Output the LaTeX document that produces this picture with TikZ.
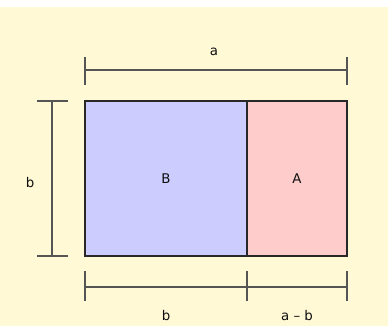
\documentclass[tikz,border=0pt]{standalone}
\usepackage{fontspec}
\setmainfont{DejaVu Sans}
\usetikzlibrary{calc}
\definecolor{paper}{RGB}{255,249,214}
\definecolor{bfill}{RGB}{204,204,255}
\definecolor{afill}{RGB}{255,204,204}
\definecolor{edgegray}{RGB}{40,40,40}
\definecolor{dimgray}{RGB}{85,85,85}
\definecolor{textgray}{RGB}{15,15,15}

\begin{document}
\begin{tikzpicture}[x=0.025cm, y=-0.025cm,
  part/.style={draw=edgegray, line width=1.2pt, minimum height=3.875cm, inner sep=0pt, outer sep=0pt, anchor=north west, font=\fontsize{9.5}{11}\selectfont, text=textgray},
  dim/.style={draw=dimgray, line width=1.2pt},
  lbl/.style={font=\fontsize{9.5}{11}\selectfont, text=textgray}]
\useasboundingbox (0,0) rectangle (388,326);
\fill[white] (0,0) rectangle (388,7);
\fill[paper] (0,7) rectangle (388,326);
% the two parts
\node[part, fill=bfill, minimum width=4.05cm] (B) at (85,101) {B};
\node[part, fill=afill, minimum width=2.5cm] (A) at (B.north east) {A};
% top measure a
\coordinate (aL) at (85,70); \coordinate (aR) at (347,70);
\draw[dim] (aL) -- (aR);
\foreach \p in {aL,aR} \draw[dim] ($(\p)+(0,-13)$) -- ($(\p)+(0,15)$);
\node[lbl] (alab) at (214,52) {a};
% left measure b
\coordinate (bT) at (52,101); \coordinate (bB) at (52,256);
\draw[dim] (bT) -- (bB);
\foreach \p in {bT,bB} \draw[dim] ($(\p)+(-15,0)$) -- ($(\p)+(16,0)$);
\node[lbl] (blab) at (30,183) {b};
% bottom measures b and a - b
\coordinate (cL) at (85,287); \coordinate (cM) at (247,287); \coordinate (cR) at (347,287);
\draw[dim] (cL) -- (cR);
\foreach \p in {cL,cM,cR} \draw[dim] ($(\p)+(0,-16)$) -- ($(\p)+(0,14)$);
\node[lbl] (cblab) at (166,316) {b};
\node[lbl] (cablab) at (297,316) {a -- b};
\end{tikzpicture}
\end{document}
